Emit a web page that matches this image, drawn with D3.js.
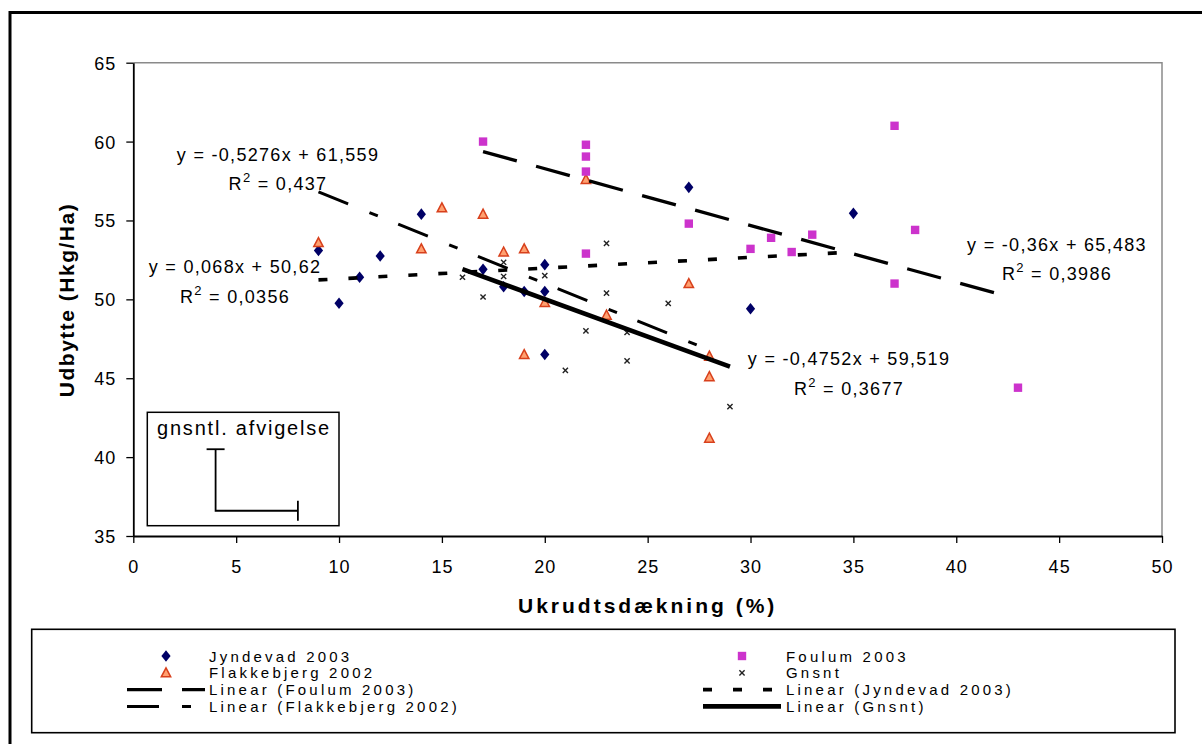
<!DOCTYPE html>
<html><head><meta charset="utf-8">
<script src="https://cdn.jsdelivr.net/npm/d3@7"></script>
<style>
body{margin:0;background:#fff}
svg{display:block}
text{font-family:"Liberation Sans",Arial,Helvetica,sans-serif;fill:#000}
</style>
</head><body>
<svg id="c" width="1202" height="744"></svg>
<script>
// ---------------- data ----------------
const jyndevadX = [9, 10, 11, 12, 14, 17, 18, 19, 20, 20, 20, 27, 30, 35];
const jyndevadY = [53.1, 49.75, 51.4, 52.75, 55.4, 51.9, 50.8, 50.5, 52.2, 50.5, 46.5, 57.1, 49.4, 55.45];
const flakX = [9, 14, 15, 17, 18, 19, 19, 20, 22, 23, 27, 28, 28, 28];
const flakY = [53.6, 53.2, 55.8, 55.4, 53.0, 53.2, 46.5, 49.8, 57.6, 49.0, 51.0, 46.4, 45.1, 41.2];
const foulumX = [17, 22, 22, 22, 22, 27, 30, 31, 32, 33, 37, 37, 38, 43];
const foulumY = [60.0, 59.8, 59.05, 58.1, 52.9, 54.8, 53.2, 53.9, 53.0, 54.1, 61.0, 51.0, 54.4, 44.4];
const gnsntX = [16, 17, 18, 18, 20, 21, 22, 23, 23, 24, 24, 26, 29];
const gnsntY = [51.4, 50.15, 52.35, 51.45, 51.5, 45.5, 48.0, 53.55, 50.4, 47.9, 46.1, 49.75, 43.2];

const trendNames = ["Foulum 2003", "Jyndevad 2003", "Flakkebjerg 2002", "Gnsnt"];
const trendSlope = [-0.36, 0.068, -0.5276, -0.4752];
const trendIntercept = [65.483, 50.62, 61.559, 59.519];
const trendFrom = [17, 9, 9, 16];
const trendTo = [42, 35, 28, 29];
const trendEq = ["y = -0,36x + 65,483", "y = 0,068x + 50,62", "y = -0,5276x + 61,559", "y = -0,4752x + 59,519"];
const trendR2 = ["0,3986", "0,0356", "0,437", "0,3677"];

const xTicks = [0, 5, 10, 15, 20, 25, 30, 35, 40, 45, 50];
const yTicks = [35, 40, 45, 50, 55, 60, 65];
const xTitle = "Ukrudtsdækning (%)";
const yTitle = "Udbytte (Hkg/Ha)";
const devLabel = "gnsntl. afvigelse";
const devX = 4, devY = 36.6, devDX = 4, devDY = 3.9;

// ---------------- layout ----------------
const P = {left: 133.3, right: 1162, top: 62.7, bottom: 536};
const svg = d3.select("#c");
const x = d3.scaleLinear().domain([0, 50]).range([P.left, P.right]);
const y = d3.scaleLinear().domain([35, 65]).range([P.bottom, P.top]);

// outer chart border (cropped on right / bottom)
svg.append("path").attr("d", "M10,744 L10,12.5 L1202,12.5")
  .attr("fill", "none").attr("stroke", "#000").attr("stroke-width", 3);

// plot border top/right
svg.append("path").attr("d", `M${P.left},${P.top} L${P.right},${P.top} L${P.right},${P.bottom}`)
  .attr("fill", "none").attr("stroke", "#8a8a8a").attr("stroke-width", 1.5);

// axes
const fontTick = "18px";
const gx = svg.append("g").attr("transform", `translate(0,${P.bottom})`)
  .call(d3.axisBottom(x).tickValues(xTicks).tickSize(7).tickSizeOuter(0).tickFormat(d => d));
gx.select(".domain").attr("stroke", "#000").attr("stroke-width", 1.8);
gx.selectAll(".tick line").attr("stroke", "#000").attr("stroke-width", 1.3);
gx.selectAll(".tick text").attr("font-size", fontTick).attr("letter-spacing", "1px")
  .attr("font-family", "Liberation Sans, Arial, sans-serif").attr("fill", "#111").attr("dy", "0").attr("y", 37);

const gy = svg.append("g").attr("transform", `translate(${P.left},0)`)
  .call(d3.axisLeft(y).tickValues(yTicks).tickSize(7).tickSizeOuter(0).tickFormat(d => d));
gy.select(".domain").attr("stroke", "#000").attr("stroke-width", 1.8);
gy.selectAll(".tick line").attr("stroke", "#000").attr("stroke-width", 1.3);
gy.selectAll(".tick text").attr("font-size", fontTick).attr("letter-spacing", "1px")
  .attr("font-family", "Liberation Sans, Arial, sans-serif").attr("fill", "#111").attr("x", -17).attr("dy", "0.36em");

// axis titles
svg.append("text").attr("x", (P.left + P.right) / 2).attr("y", 613)
  .attr("text-anchor", "middle").attr("font-size", "21px").attr("font-weight", "bold")
  .attr("letter-spacing", "3px").text(xTitle);
svg.append("text").attr("transform", `translate(74,300) rotate(-90)`)
  .attr("text-anchor", "middle").attr("font-size", "21px").attr("font-weight", "bold")
  .attr("letter-spacing", "1.5px").text(yTitle);

// ---------------- marker shapes ----------------
const diamondType = {draw(ctx){ ctx.moveTo(0,-5.8); ctx.lineTo(4.6,0); ctx.lineTo(0,5.8); ctx.lineTo(-4.6,0); ctx.closePath(); }};
const triType = {draw(ctx){ ctx.moveTo(0,-5); ctx.lineTo(4.7,4); ctx.lineTo(-4.7,4); ctx.closePath(); }};
const squareType = {draw(ctx){ ctx.rect(-4.2,-4.2,8.4,8.4); }};
const timesType = {draw(ctx){ ctx.moveTo(-2.6,-2.6); ctx.lineTo(2.6,2.6); ctx.moveTo(2.6,-2.6); ctx.lineTo(-2.6,2.6); }};

const seriesStyle = {
  "Jyndevad 2003": {type: diamondType, fill: "#000066", stroke: "none", sw: 0},
  "Flakkebjerg 2002": {type: triType, fill: "#ffa070", stroke: "#d8401c", sw: 1.5},
  "Foulum 2003": {type: squareType, fill: "#cc33cc", stroke: "none", sw: 0},
  "Gnsnt": {type: timesType, fill: "none", stroke: "#222", sw: 1.4}
};
const trendStyle = {
  "Foulum 2003": {w: 3.3, dash: "35,20"},
  "Jyndevad 2003": {w: 3.6, dash: "9,21"},
  "Flakkebjerg 2002": {w: 3, dash: "32,23,9,22"},
  "Gnsnt": {w: 4.6, dash: null}
};

function drawPoints(name, xs, ys) {
  const st = seriesStyle[name];
  const sym = d3.symbol().type(st.type);
  svg.append("g").selectAll("path").data(xs.map((v, i) => [v, ys[i]])).join("path")
    .attr("transform", d => `translate(${x(d[0])},${y(d[1])})`)
    .attr("d", sym).attr("fill", st.fill).attr("stroke", st.stroke).attr("stroke-width", st.sw);
}
drawPoints("Jyndevad 2003", jyndevadX, jyndevadY);
drawPoints("Gnsnt", gnsntX, gnsntY);
drawPoints("Flakkebjerg 2002", flakX, flakY);
drawPoints("Foulum 2003", foulumX, foulumY);

// trend lines
const line = d3.line().x(d => x(d[0])).y(d => y(d[1]));
trendNames.forEach((n, i) => {
  const pts = [trendFrom[i], trendTo[i]].map(v => [v, trendSlope[i] * v + trendIntercept[i]]);
  const st = trendStyle[n];
  svg.append("path").attr("d", line(pts)).attr("fill", "none").attr("stroke", "#000")
    .attr("stroke-width", st.w).attr("stroke-dasharray", st.dash);
});

// equation labels
const labelPos = {
  "Foulum 2003": [1057, 250.5],
  "Jyndevad 2003": [235, 273],
  "Flakkebjerg 2002": [278, 160.5],
  "Gnsnt": [849, 365]
};
trendNames.forEach((n, i) => {
  const [cx, by] = labelPos[n];
  svg.append("text").attr("x", cx).attr("y", by).attr("text-anchor", "middle")
    .attr("font-size", "18px").attr("letter-spacing", "1.3px").attr("fill", "#111").text(trendEq[i]);
  const t = svg.append("text").attr("x", cx).attr("y", by + 29.5).attr("text-anchor", "middle")
    .attr("font-size", "18px").attr("letter-spacing", "1.3px").attr("fill", "#111");
  t.append("tspan").text("R");
  t.append("tspan").attr("dy", -8).attr("font-size", "13px").text("2");
  t.append("tspan").attr("dy", 8).text(" = " + trendR2[i]);
});

// average deviation box
svg.append("rect").attr("x", 147.3).attr("y", 412.3).attr("width", 339 - 147.3).attr("height", 525.7 - 412.3)
  .attr("fill", "#fff").attr("stroke", "#000").attr("stroke-width", 1.5);
svg.append("text").attr("x", 244).attr("y", 435).attr("text-anchor", "middle")
  .attr("font-size", "20px").attr("letter-spacing", "1.8px").text(devLabel);
const dev = svg.append("g").attr("stroke", "#000").attr("stroke-width", 1.8).attr("fill", "none");
dev.append("path").attr("d", line([[devX, devY + devDY], [devX, devY], [devX + devDX, devY]]));
dev.append("line").attr("x1", x(devX) - 9).attr("x2", x(devX) + 9).attr("y1", y(devY + devDY)).attr("y2", y(devY + devDY));
dev.append("line").attr("x1", x(devX + devDX)).attr("x2", x(devX + devDX)).attr("y1", y(devY) - 10).attr("y2", y(devY) + 10);

// ---------------- legend ----------------
svg.append("rect").attr("x", 31.7).attr("y", 629.3).attr("width", 1175 - 31.7).attr("height", 732.7 - 629.3)
  .attr("fill", "#fff").attr("stroke", "#000").attr("stroke-width", 1.6);
const legendItems = [
  {label: "Jyndevad 2003", kind: "marker", s: "Jyndevad 2003", col: 0, row: 0},
  {label: "Flakkebjerg 2002", kind: "marker", s: "Flakkebjerg 2002", col: 0, row: 1},
  {label: "Linear (Foulum 2003)", kind: "line", s: "Foulum 2003", col: 0, row: 2},
  {label: "Linear (Flakkebjerg 2002)", kind: "line", s: "Flakkebjerg 2002", col: 0, row: 3},
  {label: "Foulum 2003", kind: "marker", s: "Foulum 2003", col: 1, row: 0},
  {label: "Gnsnt", kind: "marker", s: "Gnsnt", col: 1, row: 1},
  {label: "Linear (Jyndevad 2003)", kind: "line", s: "Jyndevad 2003", col: 1, row: 2},
  {label: "Linear (Gnsnt)", kind: "line", s: "Gnsnt", col: 1, row: 3}
];
const colSym = [166, 742], colText = [209, 786];
const rowY = r => 656 + r * 16.8;
legendItems.forEach(it => {
  const cy = rowY(it.row), cx = colSym[it.col];
  if (it.kind === "marker") {
    const st = seriesStyle[it.s];
    svg.append("path").attr("transform", `translate(${cx},${cy})`).attr("d", d3.symbol().type(st.type)())
      .attr("fill", st.fill).attr("stroke", st.stroke).attr("stroke-width", st.sw);
  } else {
    const st = trendStyle[it.s];
    svg.append("line").attr("x1", cx - 39).attr("x2", cx + 39).attr("y1", cy).attr("y2", cy)
      .attr("stroke", "#000").attr("stroke-width", st.w).attr("stroke-dasharray", st.dash);
  }
  svg.append("text").attr("x", colText[it.col]).attr("y", cy + 5.5).attr("font-size", "15px")
    .attr("letter-spacing", "3.2px").text(it.label);
});
</script>
</body></html>
